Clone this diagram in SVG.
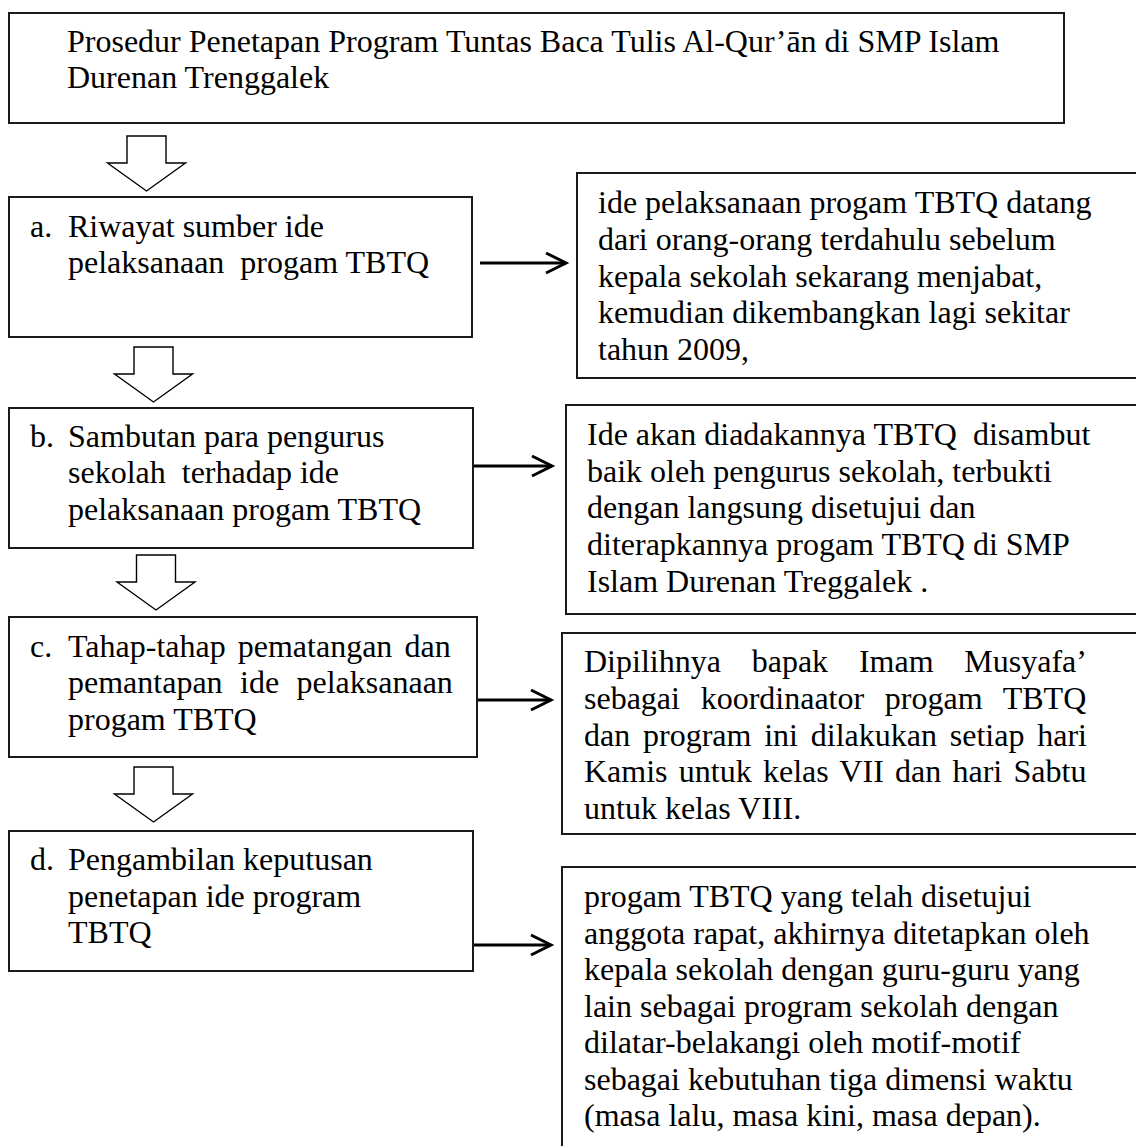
<svg xmlns="http://www.w3.org/2000/svg" width="1136" height="1146" viewBox="0 0 1136 1146">
  <style>
    .box { fill: #ffffff; stroke: #1a1a1a; stroke-width: 2; }
    .t { font-family: "Liberation Serif", "Times New Roman", serif; font-size: 32px; fill: #000000; white-space: pre; }
    .blk { fill: #ffffff; stroke: #000000; stroke-width: 1.4; stroke-linejoin: miter; }
    .conn { stroke: #000000; stroke-width: 3; fill: none; }
  </style>
  <defs>
    <marker id="chev" markerUnits="userSpaceOnUse" markerWidth="26" markerHeight="26" viewBox="-23 -13 26 26" refX="0" refY="0" orient="auto" overflow="visible">
      <path d="M-20,-10 L0,0 L-20,10" fill="none" stroke="#000000" stroke-width="3"/>
    </marker>
    <path id="blockArrow" d="M-19.5,0 H19.5 V27 H39 L0,55 L-39,27 H-19.5 Z"/>
  </defs>
  <rect x="0" y="0" width="1136" height="1146" fill="#ffffff"/>

  <g id="connectors">
    <use href="#blockArrow" class="blk" x="146.5" y="136"/>
    <use href="#blockArrow" class="blk" x="153.5" y="347"/>
    <use href="#blockArrow" class="blk" x="156" y="555"/>
    <use href="#blockArrow" class="blk" x="153.5" y="767"/>
    <line class="conn" x1="480" y1="263" x2="566" y2="263" marker-end="url(#chev)"/>
    <line class="conn" x1="473" y1="466" x2="552" y2="466" marker-end="url(#chev)"/>
    <line class="conn" x1="477" y1="700" x2="551" y2="700" marker-end="url(#chev)"/>
    <line class="conn" x1="473" y1="945" x2="551" y2="945" marker-end="url(#chev)"/>
  </g>

  <g id="node-title">
    <rect class="box" x="9" y="13" width="1055" height="110"/>
    <text class="t" x="67" y="52">Prosedur Penetapan Program Tuntas Baca Tulis Al-Qur’ān di SMP Islam</text>
    <text class="t" x="67" y="88">Durenan Trenggalek</text>
  </g>

  <g id="node-a">
    <rect class="box" x="9" y="197" width="463" height="140"/>
    <text class="t" x="30" y="237">a.</text>
    <text class="t" x="68" y="237">Riwayat sumber ide</text>
    <text class="t" x="68" y="273">pelaksanaan  progam TBTQ</text>
  </g>

  <g id="node-b">
    <rect class="box" x="9" y="408" width="464" height="140"/>
    <text class="t" x="30" y="447">b.</text>
    <text class="t" x="68" y="447">Sambutan para pengurus</text>
    <text class="t" x="68" y="483">sekolah  terhadap ide</text>
    <text class="t" x="68" y="520">pelaksanaan progam TBTQ</text>
  </g>

  <g id="node-c">
    <rect class="box" x="9" y="617" width="468" height="140"/>
    <text class="t" x="30" y="657">c.</text>
    <text class="t" x="68" y="657" style="word-spacing:4.1px">Tahap-tahap pematangan dan</text>
    <text class="t" x="68" y="693" style="word-spacing:9.4px">pemantapan ide pelaksanaan</text>
    <text class="t" x="68" y="730">progam TBTQ</text>
  </g>

  <g id="node-d">
    <rect class="box" x="9" y="831" width="464" height="140"/>
    <text class="t" x="30" y="870">d.</text>
    <text class="t" x="68" y="870">Pengambilan keputusan</text>
    <text class="t" x="68" y="907">penetapan ide program</text>
    <text class="t" x="68" y="943">TBTQ</text>
  </g>

  <g id="node-a-detail">
    <rect class="box" x="577" y="173" width="570" height="205"/>
    <text class="t" x="598" y="213">ide pelaksanaan progam TBTQ datang</text>
    <text class="t" x="598" y="250">dari orang-orang terdahulu sebelum</text>
    <text class="t" x="598" y="287">kepala sekolah sekarang menjabat,</text>
    <text class="t" x="598" y="323">kemudian dikembangkan lagi sekitar</text>
    <text class="t" x="598" y="360">tahun 2009,</text>
  </g>

  <g id="node-b-detail">
    <rect class="box" x="566" y="405" width="580" height="209"/>
    <text class="t" x="587" y="445">Ide akan diadakannya TBTQ  disambut</text>
    <text class="t" x="587" y="482">baik oleh pengurus sekolah, terbukti</text>
    <text class="t" x="587" y="518">dengan langsung disetujui dan</text>
    <text class="t" x="587" y="555">diterapkannya progam TBTQ di SMP</text>
    <text class="t" x="587" y="592">Islam Durenan Treggalek .</text>
  </g>

  <g id="node-c-detail">
    <rect class="box" x="562" y="633" width="590" height="201"/>
    <text class="t" x="584" y="672" style="word-spacing:22.8px">Dipilihnya bapak Imam Musyafa’</text>
    <text class="t" x="584" y="709" style="word-spacing:12.7px">sebagai koordinaator progam TBTQ</text>
    <text class="t" x="584" y="746" style="word-spacing:4.8px">dan program ini dilakukan setiap hari</text>
    <text class="t" x="584" y="782" style="word-spacing:3.25px">Kamis untuk kelas VII dan hari Sabtu</text>
    <text class="t" x="584" y="819">untuk kelas VIII.</text>
  </g>

  <g id="node-d-detail">
    <rect class="box" x="562" y="867" width="590" height="300"/>
    <text class="t" x="584" y="907">progam TBTQ yang telah disetujui</text>
    <text class="t" x="584" y="944">anggota rapat, akhirnya ditetapkan oleh</text>
    <text class="t" x="584" y="980">kepala sekolah dengan guru-guru yang</text>
    <text class="t" x="584" y="1017">lain sebagai program sekolah dengan</text>
    <text class="t" x="584" y="1053">dilatar-belakangi oleh motif-motif</text>
    <text class="t" x="584" y="1090">sebagai kebutuhan tiga dimensi waktu</text>
    <text class="t" x="584" y="1126">(masa lalu, masa kini, masa depan).</text>
  </g>
</svg>
